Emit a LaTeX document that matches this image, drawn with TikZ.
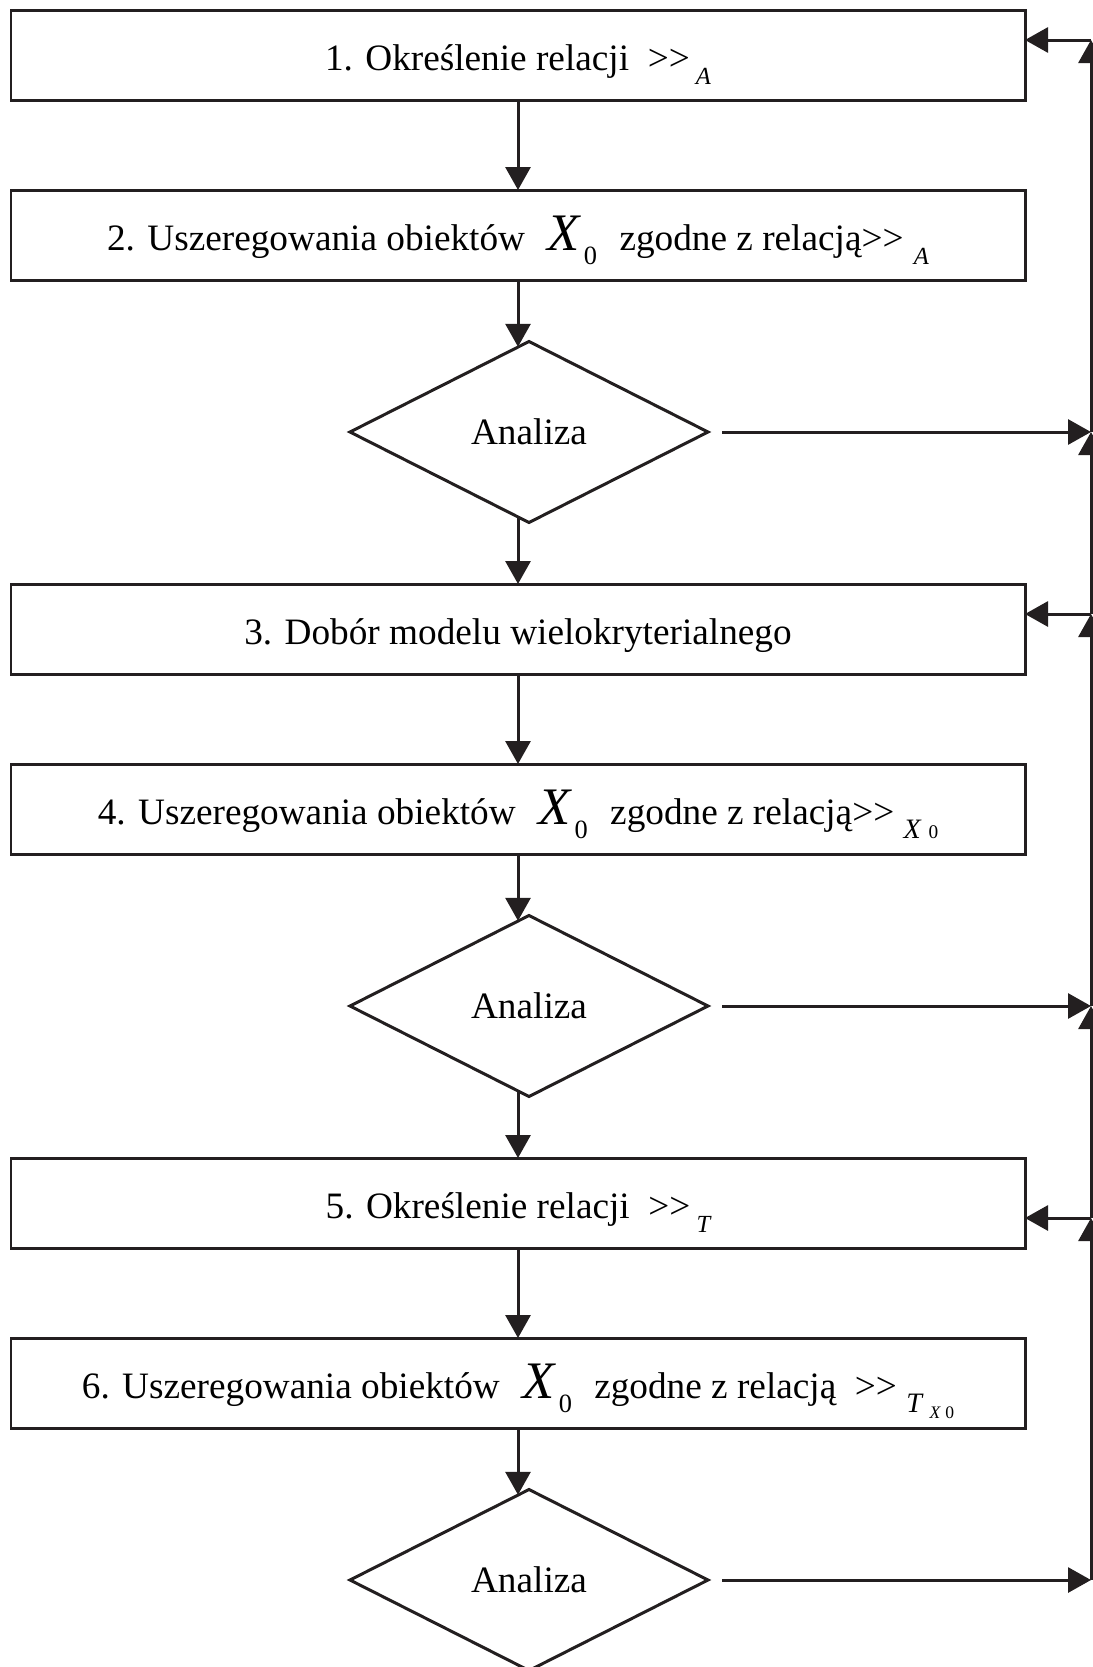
\documentclass[tikz,border=0pt]{standalone}
\usepackage{fontspec}
\setmainfont{Liberation Serif}
\usetikzlibrary{shapes.geometric, arrows.meta, positioning, calc}
\definecolor{myblack}{RGB}{35,31,32}
\newcommand{\lowsub}[1]{\raisebox{-0.8ex}{\fontsize{14}{14}\selectfont\itshape #1}}
\newcommand{\objX}{\hspace{0.35em}{\fontsize{30}{30}\selectfont\itshape X}\raisebox{-0.8ex}{\fontsize{15}{15}\selectfont\,0}\hspace{0.35em}}
\tikzset{
  block/.style={rectangle, draw=myblack, line width=0.06cm,
    minimum width=20.28cm, minimum height=1.8cm, inner sep=0pt, outer sep=0pt,
    text height=0.72cm, text depth=0.1cm,
    font=\fontsize{21.2}{26}\selectfont},
  decision/.style={diamond, draw=myblack, line width=0.06cm,
    minimum width=7.16cm, minimum height=3.62cm, inner sep=0pt, outer sep=0pt,
    font=\fontsize{21.2}{26}\selectfont},
  arrow/.style={-{Triangle[length=0.46cm, width=0.5cm]},
    line width=0.06cm, color=myblack}
}

\begin{document}
\begin{tikzpicture}[node distance=1.8cm]
  \useasboundingbox (0,0) rectangle (21.86,-33.34);
  \node[block] (b1) at (10.36,-1.1) {1. Określenie relacji \ >{}>\,\lowsub{A}};
  \node[block, below=of b1] (b2) {2. Uszeregowania obiektów \objX{} zgodne z relacją>{}>\;\lowsub{A}};
  \node[decision, below=1.23cm of b2, xshift=0.22cm] (d1) {Analiza};
  \node[block, below=1.23cm of d1, xshift=-0.22cm] (b3) {3. Dobór modelu wielokryterialnego};
  \node[block, below=of b3] (b4) {4. Uszeregowania obiektów \objX{} zgodne z relacją>{}>\ \lowsub{\fontsize{16}{16}\selectfont X\;\upshape\fontsize{11}{11}\selectfont 0}};
  \node[decision, below=1.23cm of b4, xshift=0.22cm] (d2) {Analiza};
  \node[block, below=1.23cm of d2, xshift=-0.22cm] (b5) {5. Określenie relacji \ >{}>\,\lowsub{T}};
  \node[block, below=of b5] (b6) {6. Uszeregowania obiektów \objX{} zgodne z relacją \ >{}>\ \lowsub{\fontsize{16}{16}\selectfont T\;\raisebox{-0.5ex}{\fontsize{10}{10}\selectfont X\;\upshape 0}}};
  \node[decision, below=1.23cm of b6, xshift=0.22cm] (d3) {Analiza};

  % rail on the right
  \coordinate (rail) at (21.82,0);
  \coordinate (in1) at ([yshift=0.3cm]b1.east -| rail);
  \coordinate (in3) at ([yshift=0.3cm]b3.east -| rail);
  \coordinate (in5) at ([yshift=-0.3cm]b5.east -| rail);
  \coordinate (o1) at (d1.east -| rail);
  \coordinate (o2) at (d2.east -| rail);
  \coordinate (o3) at (d3.east -| rail);

  \draw[arrow] (b1) -- (b2);
  \draw[arrow] (b2.south) -- (b2.south |- d1.97);
  \draw[arrow] (b2.south |- d1.263) -- (b3.north);
  \draw[arrow] (b3) -- (b4);
  \draw[arrow] (b4.south) -- (b4.south |- d2.97);
  \draw[arrow] (b4.south |- d2.263) -- (b5.north);
  \draw[arrow] (b5) -- (b6);
  \draw[arrow] (b6.south) -- (b6.south |- d3.97);

  \draw[arrow] ([xshift=0.28cm]d1.east) -- (o1);
  \draw[arrow] ([xshift=0.28cm]d2.east) -- (o2);
  \draw[arrow] ([xshift=0.28cm]d3.east) -- (o3);

  \draw[arrow] (o1) -- (in1);
  \draw[arrow] (in3) -- (o1);
  \draw[arrow] (o2) -- (in3);
  \draw[arrow] (in5) -- (o2);
  \draw[arrow] (o3) -- (in5);

  \draw[arrow] (in1) -- (in1 -| b1.east);
  \draw[arrow] (in3) -- (in3 -| b3.east);
  \draw[arrow] (in5) -- (in5 -| b5.east);
\end{tikzpicture}
\end{document}
